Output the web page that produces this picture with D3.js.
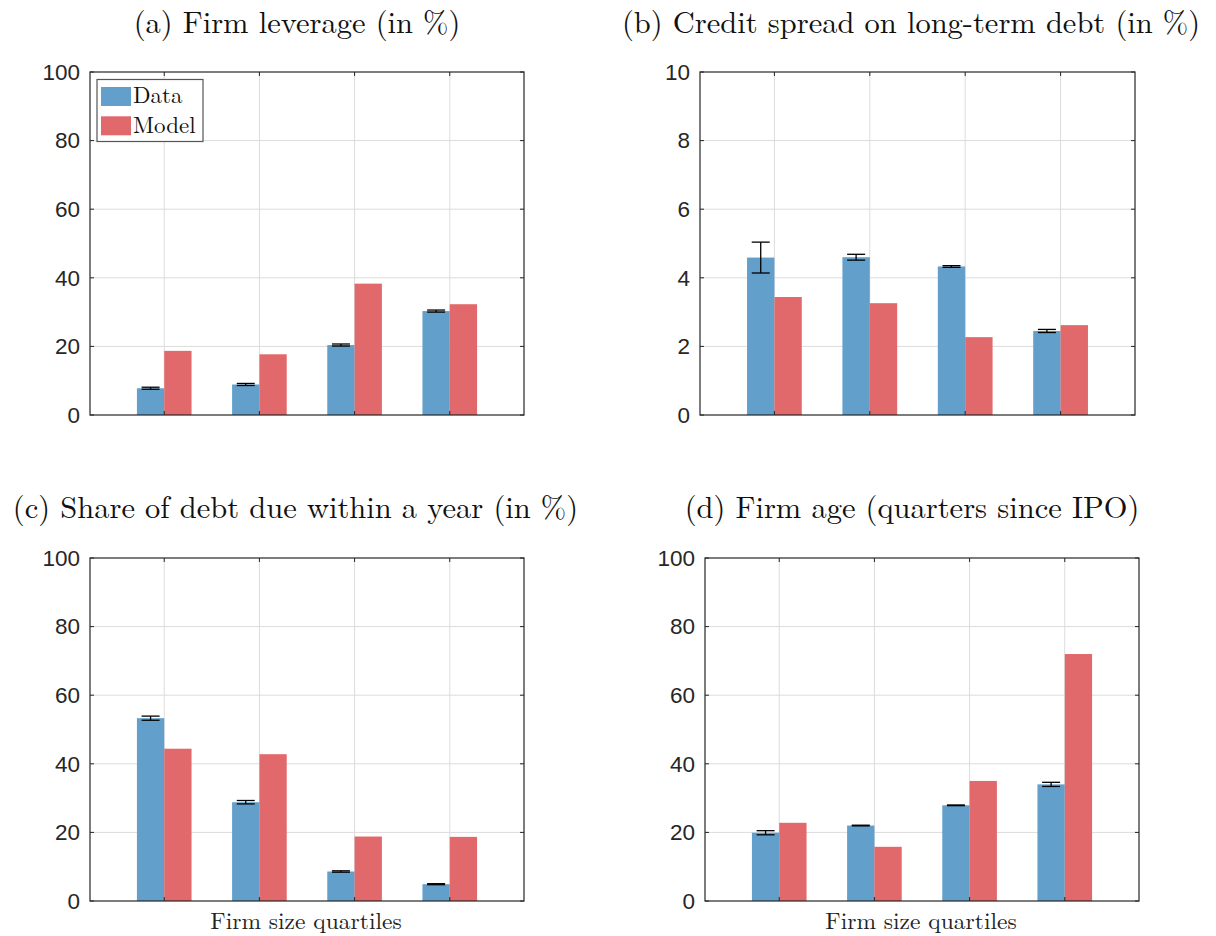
<!DOCTYPE html>
<html>
<head>
<meta charset="utf-8">
<script src="https://cdn.jsdelivr.net/npm/d3@7"></script>
<style>
html,body{margin:0;padding:0;background:#fff;}
svg{display:block;}
</style>
</head>
<body>
<svg id="chart" width="1216" height="936"></svg>
<script>
// ---------- data ----------
const categories = ["Q1", "Q2", "Q3", "Q4"];
const seriesNames = ["Data", "Model"];
const panelTitles = [
  "(a) Firm leverage (in %)",
  "(b) Credit spread on long-term debt (in %)",
  "(c) Share of debt due within a year (in %)",
  "(d) Firm age (quarters since IPO)"
];
const leverageData = [7.8, 8.9, 20.4, 30.3];
const leverageDataErr = [0.3, 0.3, 0.3, 0.3];
const leverageModel = [18.7, 17.7, 38.3, 32.3];
const spreadData = [4.59, 4.60, 4.33, 2.45];
const spreadDataErr = [0.45, 0.085, 0.025, 0.045];
const spreadModel = [3.44, 3.26, 2.27, 2.62];
const shortDebtData = [53.3, 28.8, 8.6, 4.9];
const shortDebtDataErr = [0.6, 0.5, 0.2, 0.15];
const shortDebtModel = [44.4, 42.8, 18.8, 18.7];
const ageData = [19.9, 22.0, 27.9, 34.0];
const ageDataErr = [0.6, 0.1, 0.1, 0.6];
const ageModel = [22.8, 15.8, 35.0, 72.0];
const ticksPct = [0, 20, 40, 60, 80, 100];
const ticksSpread = [0, 2, 4, 6, 8, 10];
const xAxisLabel = "Firm size quartiles";

// ---------- layout / style ----------
const colors = {Data: "#62a0cb", Model: "#e2696b"};
const serif = "'Latin Modern Roman','CMU Serif','Liberation Serif','DejaVu Serif',serif";
const sans = "'Liberation Sans',Arial,Helvetica,sans-serif";
const panels = [
  {title: panelTitles[0], data: leverageData, err: leverageDataErr, model: leverageModel, ticks: ticksPct, ymax: 100,
   box: [90, 72, 524, 415], titleX: 297, titleY: 33, legend: true, xlabel: false},
  {title: panelTitles[1], data: spreadData, err: spreadDataErr, model: spreadModel, ticks: ticksSpread, ymax: 10,
   box: [700, 72, 1135, 415], titleX: 911, titleY: 33, legend: false, xlabel: false},
  {title: panelTitles[2], data: shortDebtData, err: shortDebtDataErr, model: shortDebtModel, ticks: ticksPct, ymax: 100,
   box: [90, 558, 524, 901], titleX: 295.5, titleY: 518, legend: false, xlabel: true},
  {title: panelTitles[3], data: ageData, err: ageDataErr, model: ageModel, ticks: ticksPct, ymax: 100,
   box: [705, 558, 1139, 901], titleX: 912, titleY: 518, legend: false, xlabel: true}
];
const barW = 0.287;

const svg = d3.select("#chart");

panels.forEach(p => {
  const [x0, y0, x1, y1] = p.box;
  const g = svg.append("g");
  const x = d3.scaleLinear().domain([0.22, 4.78]).range([x0, x1]);
  const y = d3.scaleLinear().domain([0, p.ymax]).range([y1, y0]);
  const pos = categories.map((c, i) => i + 1);

  // grid
  g.append("g").selectAll("line.vg").data(pos).join("line")
    .attr("x1", d => x(d)).attr("x2", d => x(d)).attr("y1", y0).attr("y2", y1)
    .attr("stroke", "#dcdcdc").attr("stroke-width", 1);
  g.append("g").selectAll("line.hg").data(p.ticks.slice(1, -1)).join("line")
    .attr("x1", x0).attr("x2", x1).attr("y1", d => y(d)).attr("y2", d => y(d))
    .attr("stroke", "#dcdcdc").attr("stroke-width", 1);

  // bars
  const rows = categories.map((c, i) => ({i, pos: pos[i], data: p.data[i], err: p.err[i], model: p.model[i]}));
  g.append("g").selectAll("rect.d").data(rows).join("rect")
    .attr("x", d => x(d.pos - barW)).attr("width", d => x(d.pos) - x(d.pos - barW))
    .attr("y", d => y(d.data)).attr("height", d => y(0) - y(d.data))
    .attr("fill", colors.Data);
  g.append("g").selectAll("rect.m").data(rows).join("rect")
    .attr("x", d => x(d.pos)).attr("width", d => x(d.pos + barW) - x(d.pos))
    .attr("y", d => y(d.model)).attr("height", d => y(0) - y(d.model))
    .attr("fill", colors.Model);

  // error bars
  const eg = g.append("g").attr("stroke", "#000").attr("stroke-width", 1.3).attr("fill", "none");
  rows.forEach(d => {
    const cx = x(d.pos - barW / 2);
    const capHalf = 9;
    eg.append("line").attr("x1", cx).attr("x2", cx).attr("y1", y(d.data - d.err)).attr("y2", y(d.data + d.err));
    eg.append("line").attr("x1", cx - capHalf).attr("x2", cx + capHalf).attr("y1", y(d.data + d.err)).attr("y2", y(d.data + d.err));
    eg.append("line").attr("x1", cx - capHalf).attr("x2", cx + capHalf).attr("y1", y(d.data - d.err)).attr("y2", y(d.data - d.err));
  });

  // axes box and ticks
  const axisColor = "#262626";
  const tl = 4;
  const tg = g.append("g").attr("stroke", axisColor).attr("stroke-width", 1);
  pos.forEach(v => {
    tg.append("line").attr("x1", x(v)).attr("x2", x(v)).attr("y1", y1).attr("y2", y1 - tl);
    tg.append("line").attr("x1", x(v)).attr("x2", x(v)).attr("y1", y0).attr("y2", y0 + tl);
  });
  p.ticks.forEach(v => {
    tg.append("line").attr("x1", x0).attr("x2", x0 + tl).attr("y1", y(v)).attr("y2", y(v));
    tg.append("line").attr("x1", x1).attr("x2", x1 - tl).attr("y1", y(v)).attr("y2", y(v));
  });
  g.append("rect").attr("x", x0).attr("y", y0).attr("width", x1 - x0).attr("height", y1 - y0)
    .attr("fill", "none").attr("stroke", axisColor).attr("stroke-width", 1.2);

  // y tick labels via axis
  const yAxis = d3.axisLeft(y).tickValues(p.ticks).tickSize(0).tickPadding(10).tickFormat(d3.format("d"));
  const ya = g.append("g").attr("transform", `translate(${x0},0)`).call(yAxis);
  ya.select(".domain").remove();
  ya.selectAll("text").attr("font-family", sans).attr("font-size", 22.5).attr("fill", "#262626");

  // title
  g.append("text").attr("x", p.titleX).attr("y", p.titleY).attr("text-anchor", "middle")
    .attr("font-family", serif).attr("font-size", 30.5).attr("fill", "#111").text(p.title);

  if (p.xlabel) {
    g.append("text").attr("x", (x0 + x1) / 2 - 1).attr("y", y1 + 28).attr("text-anchor", "middle")
      .attr("font-family", serif).attr("font-size", 23.5).attr("fill", "#222").text(xAxisLabel);
  }

  if (p.legend) {
    const lg = g.append("g");
    lg.append("rect").attr("x", 97).attr("y", 79.5).attr("width", 106).attr("height", 62)
      .attr("fill", "#fff").attr("stroke", "#555").attr("stroke-width", 1.2);
    seriesNames.forEach((s, k) => {
      lg.append("rect").attr("x", 101).attr("y", 87 + k * 29.3).attr("width", 30).attr("height", 19)
        .attr("fill", colors[s]);
      lg.append("text").attr("x", 133).attr("y", 103 + k * 30)
        .attr("font-family", serif).attr("font-size", 23).attr("fill", "#111").text(s);
    });
  }
});
</script>
</body>
</html>
